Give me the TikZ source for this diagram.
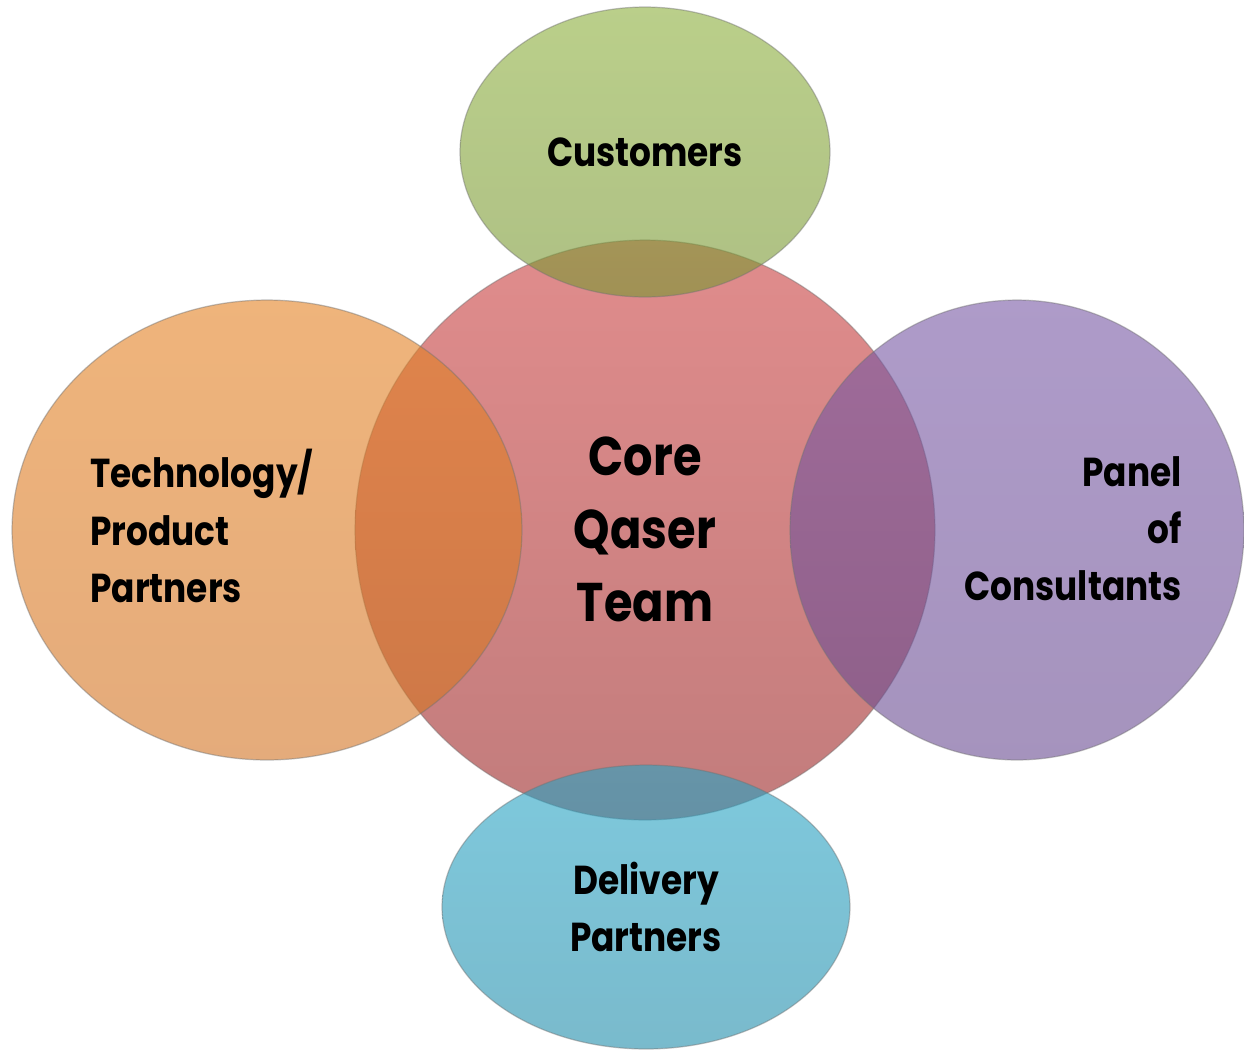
\documentclass[tikz,border=0pt]{standalone}
\usepackage{fontspec}
\setmainfont{Poppins}[FakeStretch=0.85]
\usetikzlibrary{shapes.geometric}
\definecolor{coreTop}{RGB}{224,140,140}
\definecolor{coreBot}{RGB}{194,124,124}
\definecolor{grTop}{RGB}{140,175,60}
\definecolor{grBot}{RGB}{120,150,50}
\definecolor{orTop}{RGB}{228,130,35}
\definecolor{orBot}{RGB}{210,115,35}
\definecolor{puTop}{RGB}{120,88,165}
\definecolor{puBot}{RGB}{105,75,145}
\definecolor{blTop}{RGB}{40,165,198}
\definecolor{blBot}{RGB}{32,140,170}
\begin{document}
\begin{tikzpicture}[x=0.02cm,y=-0.02cm,
  blob/.style={ellipse, inner sep=0pt, draw=black!55, draw opacity=0.45, line width=0.7pt},
  outer/.style={blob, fill opacity=0.6},
  lbl/.style={inner sep=0pt, text=black, font=\bfseries\fontsize{23}{32.5}\selectfont},
  big/.style={inner sep=0pt, text=black, font=\bfseries\fontsize{31}{41.5}\selectfont}]
\useasboundingbox (0,0) rectangle (1244,1049);
\node[blob, minimum width=11.6cm, minimum height=11.6cm, top color=coreTop, bottom color=coreBot] (core) at (645,530) {};
\node[outer, minimum width=7.4cm, minimum height=5.8cm, top color=grTop, bottom color=grBot] (customers) at (645,152) {};
\node[outer, minimum width=10.2cm, minimum height=9.2cm, top color=orTop, bottom color=orBot] (tech) at (267,530) {};
\node[outer, minimum width=9.08cm, minimum height=9.2cm, top color=puTop, bottom color=puBot] (panel) at (1017,530) {};
\node[outer, minimum width=8.16cm, minimum height=5.68cm, top color=blTop, bottom color=blBot] (delivery) at (646,907) {};
\node[lbl] (customersText) at (645,152) {Customers};
\node[big, align=center] (coreText) at (645,529) {Core\\Qaser\\Team};
\node[lbl, align=left, anchor=west] (techText) at (90,526) {Technology/\\Product\\Partners};
\node[lbl, align=right, anchor=east] (panelText) at (1182,529) {Panel\\of\\Consultants};
\node[lbl, align=center] (deliveryText) at (646,907) {Delivery\\Partners};
\end{tikzpicture}
\end{document}
